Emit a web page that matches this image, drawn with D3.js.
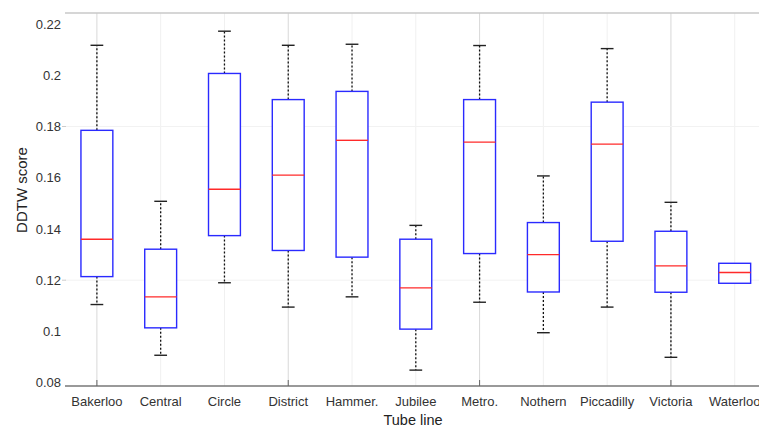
<!DOCTYPE html>
<html><head><meta charset="utf-8">
<script src="https://cdn.jsdelivr.net/npm/d3@7"></script>
<style>body{margin:0;background:#fff;} text{font-family:"Liberation Sans",Arial,sans-serif;}</style>
</head><body>
<svg id="c" width="759" height="428"></svg>
<script>
const categories = ["Bakerloo","Central","Circle","District","Hammer.","Jubilee","Metro.","Nothern","Piccadilly","Victoria","Waterloo"];
const lowerWhisker = [0.1105,0.0907,0.1190,0.1095,0.1135,0.0849,0.1114,0.0995,0.1095,0.0899,0.1188];
const q1Values     = [0.1214,0.1014,0.1374,0.1316,0.1290,0.1009,0.1304,0.1154,0.1352,0.1153,0.1188];
const medianValues = [0.1360,0.1135,0.1555,0.1610,0.1746,0.1170,0.1739,0.1300,0.1731,0.1256,0.1230];
const q3Values     = [0.1785,0.1321,0.2007,0.1905,0.1937,0.1360,0.1905,0.1425,0.1895,0.1391,0.1266];
const upperWhisker = [0.2117,0.1508,0.2172,0.2117,0.2121,0.1414,0.2116,0.1607,0.2104,0.1504,0.1266];
const yTicks = [0.08,0.1,0.12,0.14,0.16,0.18,0.2,0.22];
const yTickLabels = ["0.08","0.1","0.12","0.14","0.16","0.18","0.2","0.22"];

const svg = d3.select("#c");
const x = d3.scaleLinear().domain([0.5, 11.5]).range([65, 766.6]);
const y = d3.scaleLinear().domain([0.0787, 0.2243]).range([386, 13]);
const idx = categories.map((c,i)=>i+1);

// grid lines
const g = svg.append("g");
g.selectAll("line.vg").data(idx).enter().append("line")
  .attr("x1", d=>x(d)).attr("x2", d=>x(d)).attr("y1", y.range()[1]).attr("y2", y.range()[0])
  .attr("stroke", d=> (d-1)%3===0 ? "#d8d8d8" : "#f0f0f0").attr("stroke-width",1);
g.selectAll("line.hg").data([0.12,0.18]).enter().append("line")
  .attr("x1", 65).attr("x2", 759).attr("y1", d=>y(d)).attr("y2", d=>y(d))
  .attr("stroke","#f2f2f2");

// frame top & bottom
svg.append("line").attr("x1",65).attr("x2",759).attr("y1",13).attr("y2",13).attr("stroke","#c8c8c8").attr("stroke-width",1.5);
svg.append("line").attr("x1",65).attr("x2",759).attr("y1",386).attr("y2",386).attr("stroke","#777").attr("stroke-width",1.5);
svg.selectAll("line.bt").data(idx.filter(d=>(d-1)%3===0)).enter().append("line")
  .attr("x1", d=>x(d)).attr("x2", d=>x(d)).attr("y1",386).attr("y2",380).attr("stroke","#666");

// y labels
svg.selectAll("text.yt").data(yTicks).enter().append("text")
  .attr("x",61).attr("y",d=>y(d)).attr("dy","0.35em").attr("text-anchor","end")
  .attr("font-size",13).attr("fill","#333").text((d,i)=>yTickLabels[i]);
svg.selectAll("line.ytk").data([0.12,0.18]).enter().append("line")
  .attr("x1",62).attr("x2",66).attr("y1",d=>y(d)).attr("y2",d=>y(d)).attr("stroke","#ccc");

// x labels
svg.selectAll("text.xt").data(categories).enter().append("text")
  .attr("x",(d,i)=>x(i+1)).attr("y",401).attr("dy","0.35em").attr("text-anchor","middle")
  .attr("font-size",13).attr("fill","#333").text(d=>d);

svg.append("text").attr("x",413).attr("y",420).attr("dy","0.35em").attr("text-anchor","middle")
  .attr("font-size",14.5).attr("fill","#222").text("Tube line");
svg.append("text").attr("transform","translate(22,190) rotate(-90)").attr("dy","0.35em").attr("text-anchor","middle")
  .attr("font-size",15).attr("fill","#222").text("DDTW score");

// boxes
const hw = x(1.25)-x(1);
const cw = x(1.1)-x(1);
const bx = svg.append("g");
categories.forEach((c,i)=>{
  const cx = x(i+1);
  if (upperWhisker[i] > q3Values[i]) {
    bx.append("line").attr("x1",cx).attr("x2",cx).attr("y1",y(q3Values[i])).attr("y2",y(upperWhisker[i]))
      .attr("stroke","#111").attr("stroke-dasharray","2,2").attr("stroke-width",1.3);
    bx.append("line").attr("x1",cx-cw).attr("x2",cx+cw).attr("y1",y(upperWhisker[i])).attr("y2",y(upperWhisker[i]))
      .attr("stroke","#222").attr("stroke-width",1.4);
  }
  if (lowerWhisker[i] < q1Values[i]) {
    bx.append("line").attr("x1",cx).attr("x2",cx).attr("y1",y(q1Values[i])).attr("y2",y(lowerWhisker[i]))
      .attr("stroke","#111").attr("stroke-dasharray","2,2").attr("stroke-width",1.3);
    bx.append("line").attr("x1",cx-cw).attr("x2",cx+cw).attr("y1",y(lowerWhisker[i])).attr("y2",y(lowerWhisker[i]))
      .attr("stroke","#222").attr("stroke-width",1.4);
  }
  bx.append("rect").attr("x",cx-hw).attr("width",2*hw)
    .attr("y",y(q3Values[i])).attr("height",y(q1Values[i])-y(q3Values[i]))
    .attr("fill","#fff").attr("stroke","#2a2aff").attr("stroke-width",1.4);
  bx.append("line").attr("x1",cx-hw).attr("x2",cx+hw).attr("y1",y(medianValues[i])).attr("y2",y(medianValues[i]))
    .attr("stroke","#ff2a2a").attr("stroke-width",1.4);
});
</script>
</body></html>
